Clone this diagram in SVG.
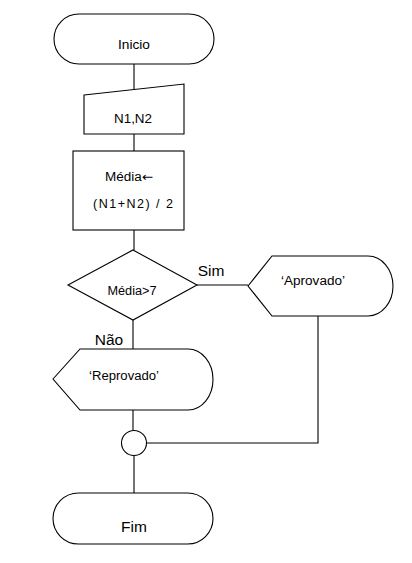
<svg xmlns="http://www.w3.org/2000/svg" width="412" height="563" viewBox="0 0 412 563">
<style>
.s{fill:#fff;stroke:#000;stroke-width:1.1}
.c{fill:none;stroke:#000;stroke-width:1.1}
.t{font-family:"Liberation Sans",Arial,sans-serif;font-size:12.5px;fill:#000;text-anchor:middle}
.b{font-family:"Liberation Sans",Arial,sans-serif;font-size:15.5px;fill:#000;text-anchor:middle}
.a{font-family:"DejaVu Sans",sans-serif}
</style>
<rect width="412" height="563" fill="#fff"/>
<g id="connectors">
<path class="c" d="M134,64 V89"/>
<path class="c" d="M134,134 V151"/>
<path class="c" d="M134,230 V250"/>
<path class="c" d="M197,285 H248"/>
<path class="c" d="M133,320 V349"/>
<path class="c" d="M133,410 V430"/>
<path class="c" d="M147,443 H318 V316"/>
<path class="c" d="M134,456 V493"/>
</g>
<g id="inicio">
<rect class="s" x="54" y="14" width="160" height="50" rx="25" ry="25"/>
<text class="t" x="134" y="49" textLength="32" lengthAdjust="spacingAndGlyphs">Inicio</text>
</g>
<g id="entrada">
<path class="s" d="M84,95 L184,84 V134 H84 Z"/>
<text class="t" x="133" y="123" textLength="38" lengthAdjust="spacingAndGlyphs">N1,N2</text>
</g>
<g id="processo">
<rect class="s" x="73" y="151" width="111" height="79"/>
<text class="t" x="129" y="181" textLength="48" lengthAdjust="spacingAndGlyphs">Média<tspan class="a">←</tspan></text>
<text class="t" x="133" y="208" textLength="80" lengthAdjust="spacing">(N1+N2) / 2</text>
</g>
<g id="decisao">
<path class="s" d="M133,250 L197,285 L133,320 L68,285 Z"/>
<text class="t" x="132" y="295" textLength="49" lengthAdjust="spacingAndGlyphs">Média&gt;7</text>
<text class="b" x="211" y="276">Sim</text>
<text class="b" x="109" y="345">Não</text>
</g>
<g id="aprovado">
<path class="s" d="M248,286 L272,256 H368 A25,30 0 0 1 368,316 H272 Z"/>
<text class="t" x="313" y="285" textLength="64" lengthAdjust="spacingAndGlyphs">‘Aprovado’</text>
</g>
<g id="reprovado">
<path class="s" d="M53,379 L80,349 H188 A25,30.5 0 0 1 188,410 H80 Z"/>
<text class="t" x="124" y="380" textLength="70" lengthAdjust="spacingAndGlyphs">‘Reprovado’</text>
</g>
<g id="juncao">
<circle class="s" cx="134" cy="443" r="12.5"/>
</g>
<g id="fim">
<rect class="s" x="53" y="493" width="160" height="51" rx="25.5" ry="25.5"/>
<text class="b" x="134" y="532">Fim</text>
</g>
</svg>
